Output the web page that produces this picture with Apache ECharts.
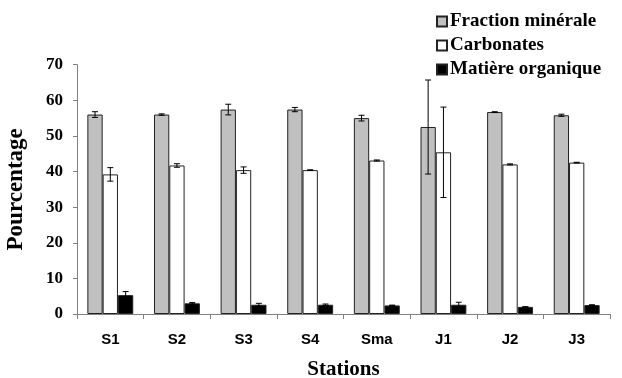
<!DOCTYPE html>
<html><head><meta charset="utf-8">
<script src="https://cdn.jsdelivr.net/npm/echarts@6/dist/echarts.min.js"></script>
<style>html,body{margin:0;padding:0;background:#fff}#c{width:622px;height:378px}</style>
</head><body><div id="c"></div>
<script>
var categories = ['S1','S2','S3','S4','Sma','J1','J2','J3'];
var seriesNames = ['Fraction minérale','Carbonates','Matière organique'];
var mineral = [56.0, 56.0, 57.4, 57.4, 55.0, 52.5, 56.7, 55.8];
var mineralErr = [0.8, 0.2, 1.5, 0.6, 0.8, 13.2, 0.1, 0.3];
var carbonates = [39.2, 41.7, 40.4, 40.4, 43.1, 45.4, 42.0, 42.5];
var carbonatesErr = [1.9, 0.5, 0.9, 0.1, 0.15, 12.7, 0.15, 0.1];
var organic = [5.3, 3.0, 2.6, 2.6, 2.4, 2.6, 2.0, 2.5];
var organicErr = [1.0, 0.2, 0.4, 0.2, 0.1, 0.7, 0.05, 0.1];
var yTicks = [0, 10, 20, 30, 40, 50, 60, 70];

var BW = 15.3;
var values = [mineral, carbonates, organic];
var errs = [mineralErr, carbonatesErr, organicErr];
var fills = ['#c0c0c0', '#ffffff', '#000000'];

var series = [];
for (var k = 0; k < 3; k++) {
  series.push({
    name: seriesNames[k], type: 'bar', barWidth: BW, barGap: '0%',
    data: values[k],
    itemStyle: { color: fills[k], borderColor: '#222', borderWidth: 1 },
    emphasis: { disabled: true }, z: 2
  });
}
for (var k = 0; k < 3; k++) {
  (function(k){
    var d = categories.map(function(c, i){ return [i, values[k][i], errs[k][i]]; });
    series.push({
      type: 'custom', data: d, z: 5, silent: true,
      renderItem: function(params, api){
        var i = api.value(0), v = api.value(1), e = api.value(2);
        var x = api.coord([i, v])[0] + (k - 1) * BW;
        var yt = api.coord([i, v + e])[1];
        var yb = api.coord([i, v - e])[1];
        var h = 3;
        var st = { stroke: '#000', lineWidth: 1 };
        return { type: 'group', children: [
          { type: 'line', shape: { x1: x, y1: yt, x2: x, y2: yb }, style: st },
          { type: 'line', shape: { x1: x - h, y1: yt, x2: x + h, y2: yt }, style: st },
          { type: 'line', shape: { x1: x - h, y1: yb, x2: x + h, y2: yb }, style: st }
        ]};
      }
    });
  })(k);
}

var chart = echarts.init(document.getElementById('c'));
chart.setOption({
  animation: false,
  backgroundColor: '#fff',
  grid: { left: 77, right: 12, top: 64.7, bottom: 64, containLabel: false, outerBoundsMode: 'none' },
  legend: {
    orient: 'vertical', left: 431, top: 7, itemWidth: 10, itemHeight: 10, itemGap: 5,
    data: seriesNames, icon: 'rect',
    textStyle: { fontFamily: 'Liberation Serif', fontWeight: 'bold', fontSize: 19, color: '#000', lineHeight: 19, padding: [0,0,0,-2] }
  },
  xAxis: {
    type: 'category', data: categories, boundaryGap: true,
    name: 'Stations', nameLocation: 'middle', nameGap: 45,
    nameTextStyle: { fontFamily: 'Liberation Serif', fontWeight: 'bold', fontSize: 21, color: '#000' },
    axisLine: { lineStyle: { color: '#808080', width: 1 } },
    axisTick: { show: true, interval: 0, length: 5, lineStyle: { color: '#808080' } },
    axisLabel: { interval: 0, margin: 18, fontFamily: 'Liberation Sans', fontWeight: 'bold', fontSize: 15, color: '#000' }
  },
  yAxis: {
    type: 'value', min: 0, max: 70, interval: 10,
    name: 'Pourcentage', nameLocation: 'middle', nameGap: 49, nameRotate: 90,
    nameTextStyle: { fontFamily: 'Liberation Serif', fontWeight: 'bold', fontSize: 23, color: '#000' },
    axisLine: { show: true, lineStyle: { color: '#808080', width: 1 } },
    axisTick: { show: true, length: 4, lineStyle: { color: '#808080' } },
    splitLine: { show: false },
    axisLabel: { margin: 14, fontFamily: 'Liberation Serif', fontWeight: 'bold', fontSize: 17, color: '#000',
      formatter: function(v){ return yTicks.indexOf(v) >= 0 ? String(v) : ''; } }
  },
  series: series
});
</script></body></html>
